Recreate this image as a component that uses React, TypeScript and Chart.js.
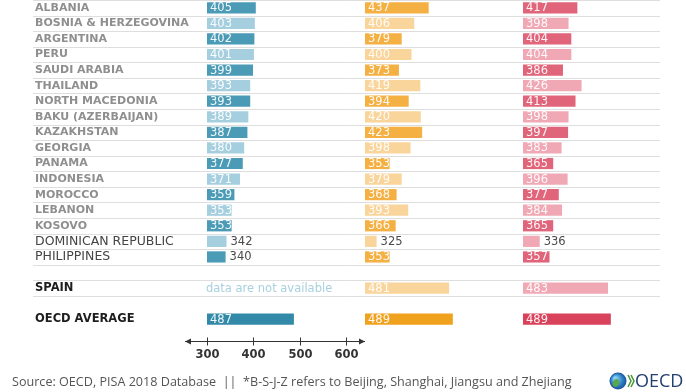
import React, { useEffect, useRef } from 'react';
import { Chart, registerables } from 'chart.js';

Chart.register(...registerables);

// PISA 2018 mean scores, lowest-performing participants plus Spain and the OECD average
const categories = [
  'ALBANIA', 'BOSNIA & HERZEGOVINA', 'ARGENTINA', 'PERU', 'SAUDI ARABIA', 'THAILAND',
  'NORTH MACEDONIA', 'BAKU (AZERBAIJAN)', 'KAZAKHSTAN', 'GEORGIA', 'PANAMA', 'INDONESIA',
  'MOROCCO', 'LEBANON', 'KOSOVO', 'DOMINICAN REPUBLIC', 'PHILIPPINES', '', 'SPAIN', '', 'OECD AVERAGE',
];

const reading = [405, 403, 402, 401, 399, 393, 393, 389, 387, 380, 377, 371, 359, 353, 353, 342, 340, null, null, null, 487];
const mathematics = [437, 406, 379, 400, 373, 419, 394, 420, 423, 398, 353, 379, 368, 393, 366, 325, 353, null, 481, null, 489];
const science = [417, 398, 404, 404, 386, 426, 413, 398, 397, 383, 365, 396, 377, 384, 365, 336, 357, null, 483, null, 489];

const axisTicks = [300, 400, 500, 600];
const scoreMin = 300;
const scoreMax = 640;

const highlightRows = ['DOMINICAN REPUBLIC', 'PHILIPPINES'];
const totalRows = ['SPAIN', 'OECD AVERAGE'];
const missingText = 'data are not available';
const sourceText = 'Source: OECD, PISA 2018 Database  ||  *B-S-J-Z refers to Beijing, Shanghai, Jiangsu and Zhejiang';

const FONT = '"DejaVu Sans", sans-serif';
const SOURCE_FONT = '"Open Sans", sans-serif';

const palettes = {
  reading: { dark: '#4b9bb7', light: '#a5cfde', avg: '#3389a8' },
  mathematics: { dark: '#f4b043', light: '#f9d49b', avg: '#f0a11e' },
  science: { dark: '#e0647a', light: '#f0a8b5', avg: '#d8425a' },
};

const averageRow = categories.length - 1;
const spainRow = categories.indexOf('SPAIN');

function shades(p: { dark: string; light: string; avg: string }) {
  return categories.map((_, i) => {
    if (i === averageRow) return p.avg;
    if (i === spainRow) return p.light;
    return i % 2 === 0 ? p.dark : p.light;
  });
}

const overlay = {
  id: 'pisaOverlay',
  beforeDatasetsDraw(chart: any) {
    const { ctx } = chart;
    const y = chart.scales.y;
    const half = (y.getPixelForValue(1) - y.getPixelForValue(0)) / 2;
    const lines = new Set<number>();
    categories.forEach((c, i) => {
      if (!c || i === averageRow) return;
      lines.add(Math.round(y.getPixelForValue(i) - half));
      lines.add(Math.round(y.getPixelForValue(i) + half));
    });
    ctx.save();
    ctx.strokeStyle = '#dedede';
    ctx.lineWidth = 1;
    lines.forEach((b) => {
      ctx.beginPath();
      ctx.moveTo(33, b + 0.5);
      ctx.lineTo(660, b + 0.5);
      ctx.stroke();
    });
    ctx.restore();
  },
  afterDatasetsDraw(chart: any) {
    const { ctx, chartArea } = chart;
    ctx.save();
    ctx.textBaseline = 'middle';
    ctx.textAlign = 'left';
    ctx.font = `11.5px ${FONT}`;

    // score labels on the bars
    chart.data.datasets.forEach((ds: any, di: number) => {
      const meta = chart.getDatasetMeta(di);
      meta.data.forEach((bar: any, i: number) => {
        const v = ds.data[i];
        if (v == null) return;
        const { x, y, base } = bar.getProps(['x', 'y', 'base'], true);
        const inside = v >= 350;
        ctx.fillStyle = inside ? 'rgba(255,255,255,0.93)' : '#4a4a4a';
        ctx.fillText(String(v), inside ? base + 3 : x + 4, y + 0.5);
      });
    });

    // Spain has no reading score
    const xr = chart.scales.xRead;
    const ys = chart.scales.y;
    ctx.fillStyle = '#a9d0de';
    ctx.fillText(missingText, xr.getPixelForValue(scoreMin) - 1, ys.getPixelForValue(spainRow) + 0.5);

    // score axis under the reading column
    const ay = Math.round(chartArea.bottom + 14) + 0.5;
    const left = xr.getPixelForValue(scoreMin) - 22;
    const right = xr.right;
    ctx.strokeStyle = '#333';
    ctx.fillStyle = '#333';
    ctx.lineWidth = 1;
    ctx.beginPath();
    ctx.moveTo(left, ay);
    ctx.lineTo(right, ay);
    ctx.stroke();
    [[left, 1], [right, -1]].forEach(([px, dir]) => {
      ctx.beginPath();
      ctx.moveTo(px, ay);
      ctx.lineTo(px + dir * 6, ay - 3);
      ctx.lineTo(px + dir * 6, ay + 3);
      ctx.closePath();
      ctx.fill();
    });
    ctx.font = `bold 11.5px ${FONT}`;
    ctx.textAlign = 'center';
    axisTicks.forEach((t) => {
      const px = Math.round(xr.getPixelForValue(t)) + 0.5;
      ctx.beginPath();
      ctx.moveTo(px, ay - 4);
      ctx.lineTo(px, ay + 4);
      ctx.stroke();
      ctx.fillText(String(t), px, ay + 14);
    });

    // source line
    ctx.textAlign = 'left';
    ctx.fillStyle = '#555';
    ctx.font = `12.6px ${SOURCE_FONT}`;
    ctx.fillText(sourceText, 12, 382);

    // OECD logo
    const gx = 618, gy = 381, r = 8.5;
    const g = ctx.createRadialGradient(gx - 3, gy - 3, 1, gx, gy, r);
    g.addColorStop(0, '#8fd0f2');
    g.addColorStop(0.6, '#2f86c8');
    g.addColorStop(1, '#1b4f96');
    ctx.fillStyle = g;
    ctx.beginPath();
    ctx.arc(gx, gy, r, 0, Math.PI * 2);
    ctx.fill();
    ctx.fillStyle = '#5aa846';
    ctx.beginPath();
    ctx.ellipse(gx - 2, gy + 2, 3, 4, 0.5, 0, Math.PI * 2);
    ctx.fill();
    ctx.lineWidth = 1.6;
    ctx.strokeStyle = '#4c9a3f';
    [0, 3].forEach((dx) => {
      ctx.beginPath();
      ctx.moveTo(gx + 10 + dx, gy - 6);
      ctx.lineTo(gx + 13 + dx, gy);
      ctx.lineTo(gx + 10 + dx, gy + 6);
      ctx.stroke();
    });
    ctx.fillStyle = '#23406f';
    ctx.font = `18px ${SOURCE_FONT}`;
    ctx.fillText('OECD', 635, 382);
    ctx.restore();
  },
};

function valueAxis() {
  return {
    type: 'linear',
    position: 'bottom',
    stack: 'columns',
    min: scoreMin,
    max: scoreMax,
    grid: { display: false, drawTicks: false },
    border: { display: false },
    ticks: { display: false },
  };
}

export default function App() {
  const canvasRef = useRef<HTMLCanvasElement | null>(null);

  useEffect(() => {
    if (!canvasRef.current) return;
    const common = { grouped: false, base: scoreMin, barPercentage: 0.72, categoryPercentage: 1, borderWidth: 0 };
    const chart = new Chart(canvasRef.current, {
      type: 'bar',
      data: {
        labels: categories,
        datasets: [
          { label: 'Reading', data: reading, xAxisID: 'xRead', backgroundColor: shades(palettes.reading), ...common },
          { label: 'Mathematics', data: mathematics, xAxisID: 'xMath', backgroundColor: shades(palettes.mathematics), ...common },
          { label: 'Science', data: science, xAxisID: 'xSci', backgroundColor: shades(palettes.science), ...common },
        ],
      } as any,
      options: {
        indexAxis: 'y',
        animation: false,
        responsive: true,
        maintainAspectRatio: false,
        events: [],
        layout: { padding: { left: 35, right: 5, top: 0, bottom: 65 } },
        plugins: { legend: { display: false }, tooltip: { enabled: false } },
        scales: {
          y: {
            type: 'category',
            position: 'left',
            grid: { display: false },
            border: { display: false },
            ticks: {
              autoSkip: false,
              crossAlign: 'far',
              padding: 0,
              color: (c: any) => {
                const name = categories[c.index];
                if (totalRows.includes(name)) return '#1e1e1e';
                if (highlightRows.includes(name)) return '#444';
                return '#8f8f8f';
              },
              font: (c: any) => {
                const name = categories[c.index];
                if (totalRows.includes(name)) return { family: FONT, size: 11.5, weight: 'bold' };
                if (highlightRows.includes(name)) return { family: FONT, size: 12.5, weight: 'normal' };
                return { family: FONT, size: 11, weight: 'bold' };
              },
            },
            afterFit: (s: any) => {
              s.width = 172;
              s.paddingTop = 0;
              s.paddingBottom = 0;
            },
          },
          xRead: valueAxis(),
          xMath: valueAxis(),
          xSci: valueAxis(),
        },
      } as any,
      plugins: [overlay],
    });
    return () => chart.destroy();
  }, []);

  return (
    <div style={{ position: 'fixed', left: 0, top: 0, width: 686, height: 392, background: '#fff' }}>
      <canvas ref={canvasRef} />
    </div>
  );
}
